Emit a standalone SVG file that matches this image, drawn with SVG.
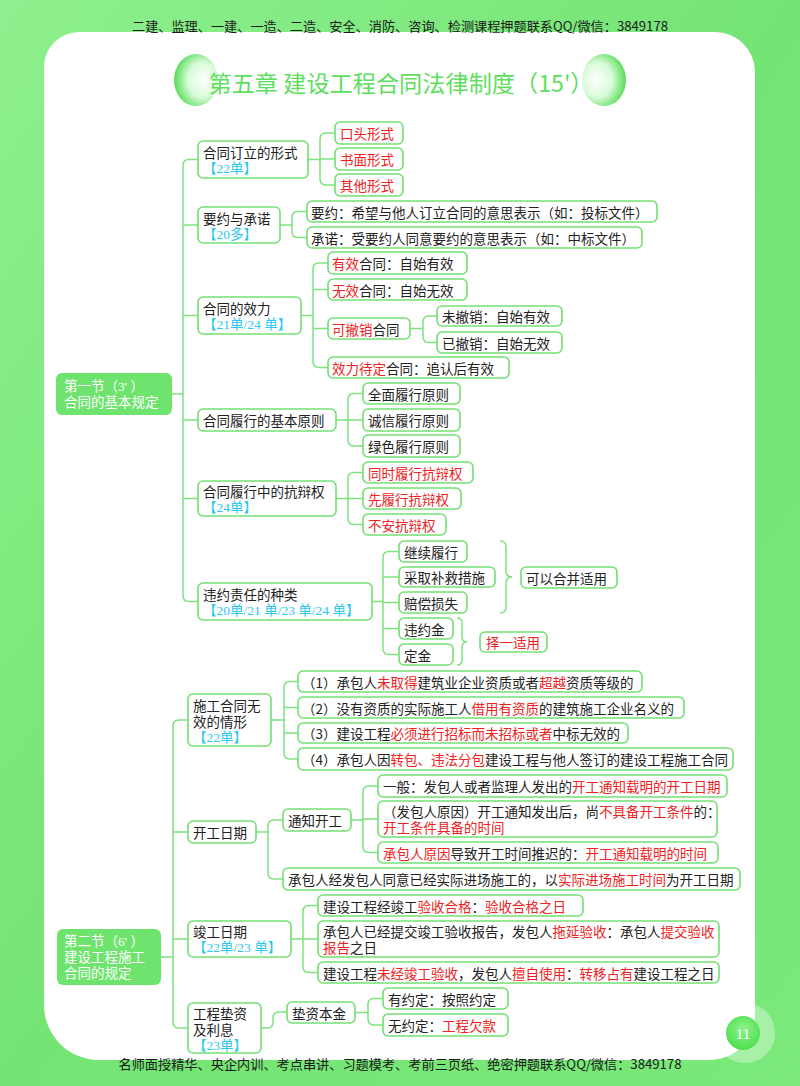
<svg xmlns="http://www.w3.org/2000/svg" width="800" height="1086" viewBox="0 0 800 1086">
<defs>
<linearGradient id="bg" x1="0" y1="0" x2="1" y2="1">
<stop offset="0" stop-color="#8ef08e"/>
<stop offset="0.5" stop-color="#74e474"/>
<stop offset="1" stop-color="#7ae97a"/>
</linearGradient>
<radialGradient id="deco" cx="0.62" cy="0.5" r="0.62" fx="0.7" fy="0.5">
<stop offset="0" stop-color="#ffffff"/>
<stop offset="0.55" stop-color="#d8fbd8"/>
<stop offset="1" stop-color="#55dd55"/>
</radialGradient>
<radialGradient id="deco2" cx="0.38" cy="0.5" r="0.62" fx="0.3" fy="0.5">
<stop offset="0" stop-color="#ffffff"/>
<stop offset="0.55" stop-color="#d8fbd8"/>
<stop offset="1" stop-color="#55dd55"/>
</radialGradient>
<radialGradient id="pg" cx="0.5" cy="0.4" r="0.6">
<stop offset="0" stop-color="#8cf48c"/>
<stop offset="1" stop-color="#4fdf4f"/>
</radialGradient>
<style>
.n{fill:#fff;stroke:#74df74;stroke-width:1.6}
.t{font-family:"Noto Sans CJK SC",sans-serif;font-size:13.5px;fill:#222;dominant-baseline:central}
.r{fill:#ee2222}
.tag{font-family:"Liberation Serif","Noto Sans CJK SC",serif;fill:#2cc8f0}
.sec{fill:#6ee46e}
.st{fill:#fff;font-family:"Liberation Serif","Noto Sans CJK SC",sans-serif}
.c{fill:none;stroke:#7ee27e;stroke-width:1.5}
.hd{font-family:"Noto Sans CJK SC",sans-serif;font-size:13px;fill:#1a1a1a;dominant-baseline:central}
</style>
</defs>
<rect x="0" y="0" width="800" height="1086" fill="url(#bg)"/>
<path d="M79,32 H715 A40,40 0 0 1 755,72 V1015 A45,45 0 0 1 710,1060 H99 A55,55 0 0 1 44,1005 V67 A35,35 0 0 1 79,32 Z" fill="#fff"/>
<text class="hd" x="400" y="25" text-anchor="middle" textLength="536" lengthAdjust="spacingAndGlyphs">二建、监理、一建、一造、二造、安全、消防、咨询、检测课程押题联系QQ/微信：3849178</text>
<text class="hd" x="400" y="1063" text-anchor="middle" textLength="563" lengthAdjust="spacingAndGlyphs">名师面授精华、央企内训、考点串讲、习题模考、考前三页纸、绝密押题联系QQ/微信：3849178</text>
<g id="title">
<ellipse cx="196" cy="80" rx="22" ry="26" fill="url(#deco)"/>
<ellipse cx="604" cy="80" rx="22" ry="26" fill="url(#deco2)"/>
<text x="401" y="82" text-anchor="middle" dominant-baseline="central" font-family="Noto Sans CJK SC, sans-serif" font-size="23" fill="#5ede5e" textLength="385" lengthAdjust="spacingAndGlyphs">第五章 建设工程合同法律制度（15'）</text>
</g>
<g id="connectors">
<path class="c" d="M171,394 H183 M198,159.5 H189 Q183,159.5 183,165.5 V595.5 Q183,601.5 189,601.5 H198 M183,225 H198 M183,315.5 H198 M183,420 H198 M183,498.5 H198"/>
<path class="c" d="M308,159.5 H320 M335,133 H326 Q320,133 320,139 V179 Q320,185 326,185 H335 M320,159 H335"/>
<path class="c" d="M280,225 H292 M307,211.5 H298 Q292,211.5 292,217.5 V231.5 Q292,237.5 298,237.5 H307"/>
<path class="c" d="M301,315.5 H313 M328,263 H319 Q313,263 313,269 V361.5 Q313,367.5 319,367.5 H328 M313,289.5 H328 M313,328.5 H328"/>
<path class="c" d="M410,328.5 H423 M437,316 H429 Q423,316 423,322 V336.5 Q423,342.5 429,342.5 H437"/>
<path class="c" d="M336,420 H348 M363,393.5 H354 Q348,393.5 348,399.5 V440 Q348,446 354,446 H363 M348,420 H363"/>
<path class="c" d="M336,498.5 H348 M363,472.5 H354 Q348,472.5 348,478.5 V518.5 Q348,524.5 354,524.5 H363 M348,498.5 H363"/>
<path class="c" d="M372,601.5 H383 M399,551.5 H389 Q383,551.5 383,557.5 V648.5 Q383,654.5 389,654.5 H399 M383,577 H399 M383,602.5 H399 M383,628.5 H399"/>
<path class="c" d="M500,541 Q506,541 506,547 V571 Q506,577 512,577 Q506,577 506,583 V607 Q506,613 500,613"/>
<path class="c" d="M457,618 Q462,618 462,623 V637 Q462,642 467,642 Q462,642 462,647 V660 Q462,665 457,665"/>
<path class="c" d="M161,957 H173 M188,720 H179 Q173,720 173,726 V1022 Q173,1028 179,1028 H188 M173,832 H188 M173,939 H188"/>
<path class="c" d="M271,720 H284 M298,681.5 H290 Q284,681.5 284,687.5 V753 Q284,759 290,759 H298 M284,707.5 H298 M284,733 H298"/>
<path class="c" d="M256,832 H268 M283,820 H274 Q268,820 268,826 V873 Q268,879 274,879 H283"/>
<path class="c" d="M351,820 H363 M378,786 H369 Q363,786 363,792 V846.5 Q363,852.5 369,852.5 H378 M363,819 H378"/>
<path class="c" d="M291,939 H303 M318,905.5 H309 Q303,905.5 303,911.5 V966.5 Q303,972.5 309,972.5 H318 M303,939 H318"/>
<path class="c" d="M261,1028 H267 Q273,1028 273,1022 V1018 Q273,1012 279,1012 H287"/>
<path class="c" d="M355,1012.5 H368 M383,998.5 H374 Q368,998.5 368,1004.5 V1019 Q368,1025 374,1025 H383"/>
</g>
<g id="s1"><rect class="sec" x="56" y="373" width="116" height="42" rx="6"/><text class="t st" x="64" y="386">第一节（3' ）<tspan x="64" dy="16">合同的基本规定</tspan></text></g>
<g id="n1"><rect class="n" x="198" y="141" width="110" height="37" rx="5"/><text class="t" x="203" y="152">合同订立的形式<tspan class="tag" x="203" dy="16">【22单】</tspan></text></g>
<g id="n1a"><rect class="n" x="335" y="122" width="68" height="22" rx="5"/><text class="t r" x="340" y="133">口头形式</text></g>
<g id="n1b"><rect class="n" x="335" y="148" width="68" height="22" rx="5"/><text class="t r" x="340" y="159">书面形式</text></g>
<g id="n1c"><rect class="n" x="335" y="174" width="68" height="22" rx="5"/><text class="t r" x="340" y="185">其他形式</text></g>
<g id="n2"><rect class="n" x="198" y="207" width="82" height="36" rx="5"/><text class="t" x="203" y="217.5">要约与承诺<tspan class="tag" x="203" dy="16">【20多】</tspan></text></g>
<g id="n2a"><rect class="n" x="307" y="201" width="350" height="21" rx="5"/><text class="t" x="311" y="211.5">要约：希望与他人订立合同的意思表示（如：投标文件）</text></g>
<g id="n2b"><rect class="n" x="307" y="227" width="335" height="21" rx="5"/><text class="t" x="311" y="237.5">承诺：受要约人同意要约的意思表示（如：中标文件）</text></g>
<g id="n3"><rect class="n" x="198" y="297" width="103" height="37" rx="5"/><text class="t" x="203" y="308">合同的效力<tspan class="tag" x="203" dy="16">【21单/24 单】</tspan></text></g>
<g id="n3a"><rect class="n" x="328" y="252" width="139" height="22" rx="5"/><text class="t" x="332" y="263"><tspan class="r">有效</tspan>合同：自始有效</text></g>
<g id="n3b"><rect class="n" x="328" y="279" width="139" height="21" rx="5"/><text class="t" x="332" y="289.5"><tspan class="r">无效</tspan>合同：自始无效</text></g>
<g id="n3c"><rect class="n" x="328" y="318" width="82" height="21" rx="5"/><text class="t" x="332" y="328.5"><tspan class="r">可撤销</tspan>合同</text></g>
<g id="n3c1"><rect class="n" x="437" y="306" width="125" height="20" rx="5"/><text class="t" x="442" y="316">未撤销：自始有效</text></g>
<g id="n3c2"><rect class="n" x="437" y="332" width="125" height="21" rx="5"/><text class="t" x="442" y="342.5">已撤销：自始无效</text></g>
<g id="n3d"><rect class="n" x="328" y="357" width="181" height="21" rx="5"/><text class="t" x="332" y="367.5"><tspan class="r">效力待定</tspan>合同：追认后有效</text></g>
<g id="n4"><rect class="n" x="198" y="409" width="138" height="22" rx="5"/><text class="t" x="203" y="420">合同履行的基本原则</text></g>
<g id="n4a"><rect class="n" x="363" y="383" width="97" height="21" rx="5"/><text class="t" x="368" y="393.5">全面履行原则</text></g>
<g id="n4b"><rect class="n" x="363" y="409" width="97" height="22" rx="5"/><text class="t" x="368" y="420">诚信履行原则</text></g>
<g id="n4c"><rect class="n" x="363" y="435" width="97" height="22" rx="5"/><text class="t" x="368" y="446">绿色履行原则</text></g>
<g id="n5"><rect class="n" x="198" y="481" width="138" height="35" rx="5"/><text class="t" x="203" y="491">合同履行中的抗辩权<tspan class="tag" x="203" dy="16">【24单】</tspan></text></g>
<g id="n5a"><rect class="n" x="363" y="462" width="110" height="21" rx="5"/><text class="t r" x="368" y="472.5">同时履行抗辩权</text></g>
<g id="n5b"><rect class="n" x="363" y="488" width="98" height="21" rx="5"/><text class="t r" x="368" y="498.5">先履行抗辩权</text></g>
<g id="n5c"><rect class="n" x="363" y="514" width="83" height="21" rx="5"/><text class="t r" x="368" y="524.5">不安抗辩权</text></g>
<g id="n6"><rect class="n" x="198" y="583" width="174" height="37" rx="5"/><text class="t" x="203" y="594">违约责任的种类<tspan class="tag" x="203" dy="16">【20单/21 单/23 单/24 单】</tspan></text></g>
<g id="n6a"><rect class="n" x="399" y="541" width="68" height="21" rx="5"/><text class="t" x="404" y="551.5">继续履行</text></g>
<g id="n6b"><rect class="n" x="399" y="567" width="96" height="20" rx="5"/><text class="t" x="404" y="577">采取补救措施</text></g>
<g id="n6c"><rect class="n" x="399" y="592" width="68" height="21" rx="5"/><text class="t" x="404" y="602.5">赔偿损失</text></g>
<g id="n6d"><rect class="n" x="399" y="618" width="54" height="21" rx="5"/><text class="t" x="404" y="628.5">违约金</text></g>
<g id="n6e"><rect class="n" x="399" y="644" width="54" height="21" rx="5"/><text class="t" x="404" y="654.5">定金</text></g>
<g id="n6f"><rect class="n" x="521" y="567" width="96" height="21" rx="5"/><text class="t" x="526" y="577.5">可以合并适用</text></g>
<g id="n6g"><rect class="n" x="480" y="632" width="67" height="20" rx="5"/><text class="t r" x="486" y="642">择一适用</text></g>
<g id="s2"><rect class="sec" x="57" y="929" width="104" height="56" rx="6"/><text class="t st" x="64" y="941">第二节（6' ）<tspan x="64" dy="16">建设工程施工</tspan><tspan x="64" dy="16">合同的规定</tspan></text></g>
<g id="m1"><rect class="n" x="188" y="694" width="83" height="52" rx="5"/><text class="t" x="193" y="705">施工合同无<tspan x="193" dy="16">效的情形</tspan><tspan class="tag" x="193" dy="16">【22单】</tspan></text></g>
<g id="m1a"><rect class="n" x="298" y="671" width="344" height="21" rx="5"/><text class="t" x="302" y="681.5">（1）承包人<tspan class="r">未取得</tspan>建筑业企业资质或者<tspan class="r">超越</tspan>资质等级的</text></g>
<g id="m1b"><rect class="n" x="298" y="697" width="386" height="21" rx="5"/><text class="t" x="302" y="707.5">（2）没有资质的实际施工人<tspan class="r">借用有资质</tspan>的建筑施工企业名义的</text></g>
<g id="m1c"><rect class="n" x="298" y="723" width="330" height="20" rx="5"/><text class="t" x="302" y="733">（3）建设工程<tspan class="r">必须进行招标而未招标或者</tspan>中标无效的</text></g>
<g id="m1d"><rect class="n" x="298" y="748" width="435" height="22" rx="5"/><text class="t" x="302" y="759">（4）承包人因<tspan class="r">转包、违法分包</tspan>建设工程与他人签订的建设工程施工合同</text></g>
<g id="m2"><rect class="n" x="188" y="821" width="68" height="22" rx="5"/><text class="t" x="193" y="832">开工日期</text></g>
<g id="m2a"><rect class="n" x="283" y="809" width="68" height="22" rx="5"/><text class="t" x="288" y="820">通知开工</text></g>
<g id="m2a1"><rect class="n" x="378" y="775" width="349" height="22" rx="5"/><text class="t" x="383" y="786">一般：发包人或者监理人发出的<tspan class="r">开工通知载明的开工日期</tspan></text></g>
<g id="m2a2"><rect class="n" x="378" y="801" width="339" height="36" rx="5"/><text class="t" x="383" y="811">（发包人原因）开工通知发出后，尚<tspan class="r">不具备开工条件</tspan>的：<tspan class="r" x="383" dy="16">开工条件具备的时间</tspan></text></g>
<g id="m2a3"><rect class="n" x="378" y="842" width="340" height="21" rx="5"/><text class="t" x="383" y="852.5"><tspan class="r">承包人原因</tspan>导致开工时间推迟的：<tspan class="r">开工通知载明的时间</tspan></text></g>
<g id="m2b"><rect class="n" x="283" y="868" width="457" height="22" rx="5"/><text class="t" x="288" y="879">承包人经发包人同意已经实际进场施工的，以<tspan class="r">实际进场施工时间</tspan>为开工日期</text></g>
<g id="m3"><rect class="n" x="188" y="921" width="103" height="36" rx="5"/><text class="t" x="193" y="931">竣工日期<tspan class="tag" x="193" dy="16">【22单/23 单】</tspan></text></g>
<g id="m3a"><rect class="n" x="318" y="895" width="265" height="21" rx="5"/><text class="t" x="323" y="905.5">建设工程经竣工<tspan class="r">验收合格</tspan>：<tspan class="r">验收合格之日</tspan></text></g>
<g id="m3b"><rect class="n" x="318" y="921" width="401" height="36" rx="5"/><text class="t" x="323" y="931">承包人已经提交竣工验收报告，发包人<tspan class="r">拖延验收</tspan>：承包人<tspan class="r">提交验收</tspan><tspan class="r" x="323" dy="16">报告</tspan>之日</text></g>
<g id="m3c"><rect class="n" x="318" y="962" width="401" height="21" rx="5"/><text class="t" x="323" y="972.5">建设工程<tspan class="r">未经竣工验收</tspan>，发包人<tspan class="r">擅自使用</tspan>：<tspan class="r">转移占有</tspan>建设工程之日</text></g>
<g id="m4"><rect class="n" x="188" y="1003" width="73" height="50" rx="5"/><text class="t" x="193" y="1012.5">工程垫资<tspan x="193" dy="16">及利息</tspan><tspan class="tag" x="193" dy="16">【23单】</tspan></text></g>
<g id="m4a"><rect class="n" x="287" y="1002" width="68" height="21" rx="5"/><text class="t" x="292" y="1012.5">垫资本金</text></g>
<g id="m4a1"><rect class="n" x="383" y="988" width="125" height="21" rx="5"/><text class="t" x="388" y="998.5">有约定：按照约定</text></g>
<g id="m4a2"><rect class="n" x="383" y="1014" width="125" height="22" rx="5"/><text class="t" x="388" y="1025">无约定：<tspan class="r">工程欠款</tspan></text></g>
<g id="page">
<circle cx="745" cy="1033" r="30" fill="#ffffff" opacity="0.35"/>
<circle cx="743" cy="1033" r="17" fill="url(#pg)"/>
<text x="743" y="1034" text-anchor="middle" dominant-baseline="central" font-family="Liberation Serif, serif" font-size="15" fill="#fff">11</text>
</g>
</svg>
